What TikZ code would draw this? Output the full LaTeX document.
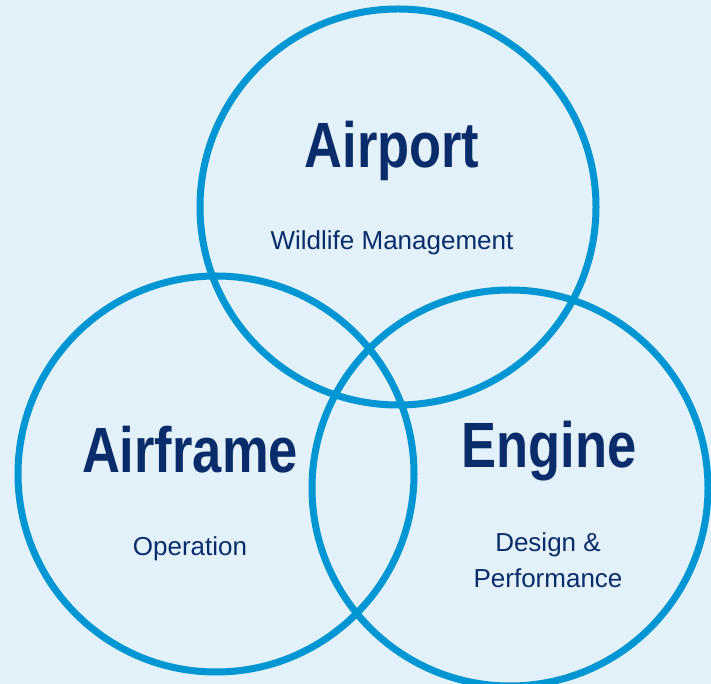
\documentclass[tikz,border=0pt]{standalone}
\usepackage{fontspec}
\setmainfont{Liberation Sans}
\usepackage{graphicx}
\definecolor{bgblue}{HTML}{E3F2FA}
\definecolor{ringblue}{HTML}{0095D3}
\definecolor{navy}{HTML}{0B2C6B}
\newcommand{\headtxt}[1]{\scalebox{0.82}[1]{\fontsize{64}{70}\selectfont\bfseries #1}}
\begin{document}
\begin{tikzpicture}[x=1pt, y=1pt,
    ring/.style={draw=ringblue, line width=7pt, circle, minimum size=396pt, inner sep=0pt},
    head/.style={text=navy, inner sep=0pt, anchor=base},
    sub/.style={text=navy, inner sep=0pt, anchor=base, font=\fontsize{26}{31}\selectfont, align=center}]
  \fill[bgblue] (0,0) rectangle (711,684);
  \useasboundingbox (0,0) rectangle (711,684);
  % the three rings
  \node[ring] (airportring) at (398,477) {};
  \node[ring] (airframering) at (216,210) {};
  \node[ring] (enginering) at (510,196) {};
  % labels
  \node[head] (airport) at (392,516) {\headtxt{Airport}};
  \node[sub] (wildlife) at (392,434) {Wildlife Management};
  \node[head] (airframe) at (190,211) {\headtxt{Airframe}};
  \node[sub] (operation) at (190,128) {Operation};
  \node[head] (engine) at (549,216) {\headtxt{Engine}};
  \node[sub] (design) at (548,132) {Design \&};
  \node[sub] (performance) at (548,96) {Performance};
\end{tikzpicture}
\end{document}
